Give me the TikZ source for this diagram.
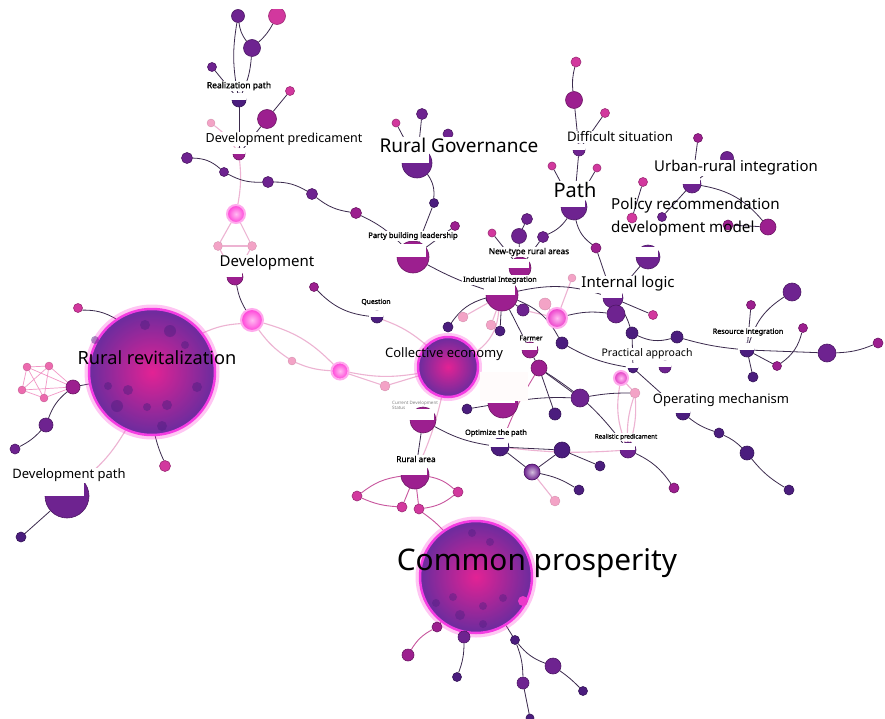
\documentclass[tikz,border=0pt]{standalone}
\usepackage{fontspec}
\setmainfont{Noto Sans}
\newfontfamily\lblbold{Noto Sans}[FakeBold=1.3]
\usetikzlibrary{positioning, backgrounds}

\definecolor{dpur}{HTML}{4B1D7E}
\definecolor{pur}{HTML}{6E2390}
\definecolor{mag}{HTML}{9C1F8F}
\definecolor{pnk}{HTML}{D2389E}
\definecolor{kpk}{HTML}{EC6AAE}
\definecolor{hotpk}{HTML}{FF3FD8}
\definecolor{lpk}{HTML}{F3A3C6}
\definecolor{lineD}{HTML}{3B2A4D}
\definecolor{lineP}{HTML}{EDB3D2}
\definecolor{lineK}{HTML}{C8569E}
\definecolor{bigIn}{HTML}{E32294}
\definecolor{bigOut}{HTML}{6A2C9E}
\definecolor{bigRim}{HTML}{F23BE6}

\newcommand{\lblsize}[1]{\fontsize{#1}{#1}\selectfont}

\begin{document}
\begin{tikzpicture}[x=1pt, y=-1pt,
	bub/.style={circle, inner sep=0pt, minimum size=#1, line width=.6pt},
	nD/.style={bub=#1, fill=dpur, draw=dpur!70!black},
	nP/.style={bub=#1, fill=pur, draw=pur!70!black},
	nM/.style={bub=#1, fill=mag, draw=mag!70!black},
	nK/.style={bub=#1, fill=pnk, draw=pnk!75!black},
	nC/.style={bub=#1, fill=kpk, draw=kpk!80!black, line width=.3pt},
	nL/.style={bub=#1, fill=lpk, draw=lpk!85!black, line width=.3pt},
	nH/.style={bub=#1, inner color=hotpk!35!white, outer color=hotpk, draw=hotpk!45!white, line width=2pt},
	big/.style={bub=#1, inner color=bigIn, outer color=bigOut, draw=bigRim, line width=2.5pt},
	eD/.style={draw=lineD, line width=.8pt},
	eP/.style={draw=lineP, line width=1.1pt},
	eK/.style={draw=lineK, line width=.9pt},
	lab/.style={fill=white, inner sep=1pt, font=\lblsize{#1}},
	labB/.style={fill=white, inner sep=1pt, font=\lblbold\lblsize{#1}}]
	
	% -------------------------------------------------------------------------
	% 1. 画布范围
	% -------------------------------------------------------------------------
	\useasboundingbox (0,0) rectangle (885,719);
	
	% -------------------------------------------------------------------------
	% 2. 三个中心节点 (大圆)
	% -------------------------------------------------------------------------
	\node[big=126] (RR) at (152,372) {};
	\node[big=112] (CP) at (476,577) {};
	\node[big=60]  (CE) at (448,367) {};
	\draw[hotpk, line width=5pt, opacity=.3] (RR.center) circle (65pt);
	\draw[hotpk, line width=5pt, opacity=.3] (CP.center) circle (58pt);
	\draw[hotpk, line width=4pt, opacity=.3] (CE.center) circle (32pt);
	% 大圆里的小点
	\foreach \x/\y/\r in {145/325/5, 170/331/6, 128/390/5, 117/406/6, 108/386/4,
		147/407/4, 167/405/5, 162/426/5, 197/387/5, 185/345/4, 95/340/4}
		\fill[dpur, opacity=.45] (\x,\y) circle (\r pt);
	\foreach \x/\y/\r in {472/533/4, 490/542/4, 453/597/4, 483/606/4, 460/615/5,
		503/598/4, 436/603/4, 483/624/4}
		\fill[dpur, opacity=.4] (\x,\y) circle (\r pt);
	\fill[hotpk!80!mag] (523,601) circle (5pt);
	
	% -------------------------------------------------------------------------
	% 3. 左上: Realization path / Development predicament / Development
	% -------------------------------------------------------------------------
	\node[nP=13] (t1) at (238,16) {};
	\node[nK=17] (t2) at (277,16) {};
	\node[nP=17] (t3) at (252,48) {};
	\node[nP=9]  (t4) at (212,67) {};
	\node[nD=14] (bRP) at (239,100) {};
	\node[nK=9]  (t5) at (290,91) {};
	\node[nM=19] (t6) at (267,119) {};
	\node[nL=8]  (t7) at (211,123) {};
	\node[nM=12] (bDP) at (239,154) {};
	\node[nP=11] (c1) at (187,158) {};
	\node[nP=9]  (c2) at (224,172) {};
	\node[nP=11] (c3) at (268,182) {};
	\node[nP=11] (c4) at (312,194) {};
	\node[nM=11] (c5) at (356,213) {};
	\node[nH=18] (g1) at (236,214) {};
	\node[nL=9]  (t8) at (218,246) {};
	\node[nL=9]  (t9) at (252,246) {};
	\node[nM=16] (bDev) at (235,277) {};
	
	% Rural Governance / Party building leadership
	\node[nK=8]  (r1) at (396,123) {};
	\node[nP=11] (r2) at (422,114) {};
	\node[nP=10] (r3) at (448,134) {};
	\node[nP=30] (bRG) at (417,163) {};
	\node[nD=9]  (r4) at (434,203) {};
	\node[nM=9]  (r5) at (455,226) {};
	\node[nM=32] (bPBL) at (413,257) {};
	
	% Question 与左侧粉色链
	\node[nH=22] (g2) at (252,320) {};
	\node[nM=9]  (m1) at (314,287) {};
	\node[nD=12] (bQ) at (377,317) {};
	\node[nL=8]  (l1) at (292,361) {};
	\node[nH=17] (g3) at (340,371) {};
	\node[nL=10] (l2) at (385,386) {};
	
	% -------------------------------------------------------------------------
	% 4. Rural revitalization 周围
	% -------------------------------------------------------------------------
	\node[nK=9]  (w1) at (78,308) {};
	\node[nM=14] (w2) at (73,387) {};
	\node[nC=8]  (k1) at (27,367) {};
	\node[nC=8]  (k2) at (49,366) {};
	\node[nC=8]  (k3) at (22,390) {};
	\node[nC=8]  (k4) at (44,398) {};
	\node[nP=14] (w3) at (46,425) {};
	\node[nP=10] (w4) at (15,449) {};
	\node[nK=11] (w5) at (165,466) {};
	\node[nP=44] (bDPth) at (67,496) {};
	\node[nD=10] (w6) at (21,537) {};
	
	% -------------------------------------------------------------------------
	% 5. 右上: Path / Urban-rural integration
	% -------------------------------------------------------------------------
	\node[nK=10] (q1) at (576,62) {};
	\node[nM=17] (q2) at (574,100) {};
	\node[nK=9]  (q3) at (605,113) {};
	\node[nP=12] (bDS) at (579,150) {};
	\node[nK=8]  (q4) at (552,166) {};
	\node[nK=8]  (q5) at (597,168) {};
	\node[nP=26] (bPath) at (574,207) {};
	\node[nP=11] (q6) at (527,219) {};
	\node[nP=15] (q7) at (519,236) {};
	\node[nP=11] (q8) at (543,237) {};
	\node[nK=8]  (q9) at (492,233) {};
	\node[nM=22] (bNT) at (520,268) {};
	\node[nM=10] (q10) at (596,248) {};
	
	\node[nM=9]  (u1) at (698,138) {};
	\node[nP=13] (u2) at (727,158) {};
	\node[nP=18] (bUR) at (692,184) {};
	\node[nP=9]  (u3) at (662,217) {};
	\node[nK=9]  (u4) at (643,182) {};
	\node[nK=10] (u5) at (632,218) {};
	\node[nM=10] (u6) at (728,225) {};
	\node[nM=16] (u7) at (768,227) {};
	\node[nP=24] (bDM) at (648,257) {};
	
	% -------------------------------------------------------------------------
	% 6. 中部: Industrial Integration / Internal logic / Farmer
	% -------------------------------------------------------------------------
	\node[nP=20] (bIL) at (613,298) {};
	\node[nK=9]  (v1) at (653,315) {};
	\node[nP=18] (v2) at (616,314) {};
	\node[nD=12] (v3) at (632,333) {};
	\node[nD=12] (v4) at (677,337) {};
	\node[nD=12] (v5) at (562,343) {};
	\node[nL=12] (l3) at (545,304) {};
	\node[nH=20, outer color=hotpk!80!mag] (g4) at (557,318) {};
	\node[nL=8]  (l4) at (572,278) {};
	\node[nP=12] (v6) at (523,310) {};
	\node[nD=10] (v7) at (500,331) {};
	\node[nD=8]  (v8) at (490,299) {};
	\node[nL=10] (l5) at (463,317) {};
	\node[nL=10] (l6) at (491,325) {};
	\node[nD=10] (v9) at (448,327) {};
	\node[nM=32] (bII) at (502,295) {};
	
	\node[nM=16] (bFa) at (530,350) {};
	\node[nM=16] (f1) at (539,368) {};
	\node[nP=18] (f2) at (580,398) {};
	\node[nD=12] (f3) at (555,414) {};
	
	% Resource integration
	\node[nM=9]  (s1) at (751,305) {};
	\node[nP=18] (s2) at (792,292) {};
	\node[nM=9]  (s3) at (803,328) {};
	\node[nP=18] (s4) at (827,353) {};
	\node[nM=10] (s5) at (878,343) {};
	\node[nM=9]  (s6) at (777,366) {};
	\node[nD=10] (s7) at (753,377) {};
	\node[nD=14] (bRI) at (747,350) {};
	
	% Practical approach / Operating mechanism / Realistic predicament
	\node[nD=10] (bPA) at (633,368) {};
	\node[nP=12] (pa1) at (665,367) {};
	\node[nH=14, outer color=hotpk!70!mag] (g5) at (621,378) {};
	\node[nL=10] (l7) at (635,393) {};
	\node[nD=14] (bOM) at (683,413) {};
	\node[nD=10] (o1) at (719,433) {};
	\node[nD=14] (o2) at (747,453) {};
	\node[nD=10] (o3) at (789,490) {};
	\node[nP=16] (bRPd) at (628,450) {};
	\node[nM=10] (rp1) at (674,488) {};
	
	% -------------------------------------------------------------------------
	% 7. 下部: Optimize the path / Rural area / Common prosperity
	% -------------------------------------------------------------------------
	\node[nM=30] (bCEl) at (503,403) {};
	\node[nD=10] (e1) at (467,409) {};
	\node[nD=18] (bOP) at (500,447) {};
	\node[nD=16] (o4) at (562,450) {};
	\node[nP=16, inner color=pur!30!white, outer color=pur] (o5) at (532,472) {};
	\node[nD=10] (o6) at (579,490) {};
	\node[nD=10] (o7) at (600,466) {};
	\node[nL=10] (l8) at (555,501) {};
	\node[nM=26] (bCDS) at (423,420) {};
	\node[nM=28] (bRA) at (415,475) {};
	\node[nK=10] (ra1) at (357,496) {};
	\node[nK=10] (ra2) at (402,507) {};
	\node[nK=10] (ra3) at (419,509) {};
	\node[nK=10] (ra4) at (458,492) {};
	
	\node[nM=10] (cp1) at (437,627) {};
	\node[nM=12] (cp2) at (408,655) {};
	\node[nP=12] (cp3) at (464,637) {};
	\node[nD=9]  (cp4) at (457,677) {};
	\node[nD=9]  (cp5) at (515,640) {};
	\node[nP=16] (cp6) at (553,666) {};
	\node[nD=9]  (cp7) at (583,691) {};
	\node[nP=12] (cp8) at (523,683) {};
	\node[nD=8]  (cp9) at (530,718) {};
	
	% -------------------------------------------------------------------------
	% 8. 连线 (放在背景层)
	% -------------------------------------------------------------------------
	\begin{scope}[on background layer]
		\fill[white] (0,0) rectangle (885,719);
		% 粉色弱连接
		\draw[eP] (bDP) to[bend left=8] (g1);
		\draw[eP] (g1) -- (t8);
		\draw[eP] (g1) -- (t9);
		\draw[eP] (t8) -- (t9);
		\draw[eP] (t8) -- (bDev);
		\draw[eP] (t9) -- (bDev);
		\draw[eP] (RR) to[bend left=10] (g2);
		\draw[eP] (g2) to[bend right=10] (l1);
		\draw[eP] (g2) to[bend left=15] (g3);
		\draw[eP] (l1) to[bend right=10] (g3);
		\draw[eP] (g3) -- (l2);
		\draw[eP] (g3) to[bend right=10] (CE);
		\draw[eP] (l2) -- (CE);
		\draw[eP] (bQ) to[bend left=10] (CE);
		\draw[eP] (CE) to[bend right=25] (bII);
		\draw[eP] (CE) to[bend left=5] (bRA);
		\draw[eP] (l5) -- (bII);
		\draw[eP] (l6) -- (bII);
		\draw[eP] (l3) -- (g4);
		\draw[eP] (l4) -- (g4);
		\draw[eP] (g4) -- (v6);
		\draw[eP] (g5) -- (l7);
		\draw[eP] (l7) to[bend left=10] (bRPd);
		\draw[eP] (l7) to[bend right=10] (bRPd);
		\draw[eP] (g5) to[bend right=15] (bRPd);
		\draw[eP] (bOP) to[bend right=5] (bRPd);
		\draw[eP] (o5) -- (l8);
		\draw[eP] (RR) to[bend left=10] (bDPth);
		\foreach \a/\b in {k1/k2, k1/k3, k1/k4, k2/k3, k2/k4, k3/k4, k1/w2, k2/w2, k3/w2, k4/w2}
			\draw[eP, line width=.7pt, draw=kpk!70!white] (\a) -- (\b);
		\draw[eP] (t7) to[bend left=10] (bDP);
		
		% 深色连接: 左上
		\draw[eD] (t1) to[bend right=15] (t3);
		\draw[eD] (t2) to[bend left=10] (t3);
		\draw[eD] (t3) to[bend left=10] (bRP);
		\draw[eD] (t1) to[bend right=10] (bRP);
		\draw[eD] (t4) -- (bRP);
		\draw[eD] (t5) -- (t6);
		\draw[eD] (t6) -- (bDP);
		\draw[eD] (bRP) -- (bDP);
		\draw[eD] (c1) to[bend left=20] (c2);
		\draw[eD] (c2) to[bend right=15] (c3);
		\draw[eD] (c3) to[bend left=15] (c4);
		\draw[eD] (c4) to[bend right=15] (c5);
		\draw[eD] (c5) to[bend left=10] (bPBL);
		\draw[eD] (bDev) to[bend right=10] (g2);
		\draw[eD] (m1) to[bend right=20] (bQ);
		
		% Rural Governance
		\draw[eD] (r1) -- (bRG);
		\draw[eD] (r2) -- (bRG);
		\draw[eD] (r3) -- (bRG);
		\draw[eD] (bRG) to[bend left=20] (r4);
		\draw[eD] (r4) -- (bPBL);
		\draw[eD] (r5) -- (bPBL);
		\draw[eD] (bPBL) to[bend right=5] (bII);
		
		% Rural revitalization
		\draw[eD] (w1) to[bend left=15] (RR);
		\draw[eD] (w2) -- (RR);
		\draw[eD] (w2) to[bend right=15] (w3);
		\draw[eD] (w3) to[bend left=10] (w4);
		\draw[eD] (RR) to[bend right=5] (w5);
		\draw[eD] (bDPth) -- (w6);
		
		% Path
		\draw[eD] (q1) to[bend right=10] (q2);
		\draw[eD] (q2) -- (bDS);
		\draw[eD] (q3) -- (bDS);
		\draw[eD] (bDS) -- (bPath);
		\draw[eD] (q4) -- (bPath);
		\draw[eD] (q5) -- (bPath);
		\draw[eD] (bPath) to[bend left=15] (q8);
		\draw[eD] (q6) -- (q7);
		\draw[eD] (q7) -- (bNT);
		\draw[eD] (q8) -- (bNT);
		\draw[eD] (q9) -- (bNT);
		\draw[eD] (bPath) to[bend right=20] (q10);
		\draw[eD] (q10) -- (bIL);
		
		% Urban-rural integration
		\draw[eD] (u1) -- (bUR);
		\draw[eD] (u2) -- (bUR);
		\draw[eD] (bUR) -- (u3);
		\draw[eD] (u4) -- (u5);
		\draw[eD] (u6) -- (u7);
		\draw[eD] (u7) to[bend right=20] (bUR);
		\draw[eD] (bDM) -- (bIL);
		
		% Internal logic / Industrial Integration
		\draw[eD] (bIL) -- (v1);
		\draw[eD] (bIL) -- (v2);
		\draw[eD] (v2) to[bend right=10] (g4);
		\draw[eD] (bIL) to[bend left=10] (v3);
		\draw[eD] (v3) to[bend right=20] (v4);
		\draw[eD] (v4) to[bend right=5] (bRI);
		\draw[eD] (v3) -- (bPA);
		\draw[eD] (v5) to[bend right=10] (bPA);
		\draw[eD] (bII) to[bend left=20] (v5);
		\draw[eD] (bII) -- (v6);
		\draw[eD] (bII) -- (v7);
		\draw[eD] (bII) -- (v8);
		\draw[eD] (bII) to[bend right=20] (v9);
		\draw[eD] (bII) -- (bFa);
		\draw[eD] (bII) to[bend left=15] (bIL);
		
		% Resource integration
		\draw[eD] (s1) -- (bRI);
		\draw[eD] (s2) to[bend right=20] (bRI);
		\draw[eD] (s3) to[bend left=20] (s6);
		\draw[eD] (s6) -- (bRI);
		\draw[eD] (s4) to[bend right=10] (s5);
		\draw[eD] (s4) -- (bRI);
		\draw[eD] (bRI) -- (s7);
		
		% Farmer / Operating mechanism
		\draw[eD] (bFa) -- (f1);
		\draw[eD] (f1) -- (f2);
		\draw[eD] (f1) -- (f3);
		\draw[eD] (f1) to[bend left=10] (bRPd);
		\draw[eK] (f1) to[bend right=5] (bOP);
		\draw[eD] (bCEl) to[bend left=5] (f2);
		\draw[eD] (f2) to[bend left=5] (l7);
		\draw[eD] (bPA) -- (bOM);
		\draw[eD] (bOM) to[bend right=10] (o1);
		\draw[eD] (o1) to[bend left=10] (o2);
		\draw[eD] (o2) to[bend right=10] (o3);
		\draw[eD] (bRPd) to[bend left=15] (rp1);
		
		% Optimize the path / Rural area
		\draw[eD] (e1) -- (bCEl);
		\draw[eD] (bCDS) -- (bRA);
		\draw[eD] (bCDS) to[bend right=10] (bOP);
		\draw[eD] (bOP) -- (o5);
		\draw[eD] (o5) -- (o4);
		\draw[eD] (o4) -- (o7);
		\draw[eD] (o4) -- (bOP);
		\draw[eD] (o5) to[bend left=10] (o6);
		\draw[eK] (bRA) to[bend right=15] (ra1);
		\draw[eK] (ra1) to[bend right=10] (ra2);
		\draw[eK] (bRA) -- (ra2);
		\draw[eK] (bRA) -- (ra3);
		\draw[eK] (bRA) to[bend left=15] (ra4);
		\draw[eK] (ra3) to[bend right=15] (ra4);
		\draw[eK] (ra3) to[bend left=5] (CP);
		
		% Common prosperity
		\draw[eK] (CP) -- (cp1);
		\draw[eK] (cp1) to[bend right=15] (cp2);
		\draw[eD] (CP) -- (cp3);
		\draw[eD] (cp3) to[bend left=10] (cp4);
		\draw[eD] (CP) -- (cp5);
		\draw[eD] (cp5) to[bend right=15] (cp6);
		\draw[eD] (cp6) to[bend left=5] (cp7);
		\draw[eD] (cp5) to[bend left=10] (cp8);
		\draw[eD] (cp8) -- (cp9);
	\end{scope}
	
	% -------------------------------------------------------------------------
	% 9. 标签下方的半圆 (遮住上半部分)
	% -------------------------------------------------------------------------
	\foreach \b in {bRP, bDP, bDev, bRG, bPBL, bQ, bDPth, bDS, bPath, bNT, bUR, bDM,
		bIL, bII, bRI, bFa, bPA, pa1, bOM, bRPd, bCEl, bOP, bCDS, bRA}
		\fill[white] ([xshift=-1.5pt]\b.west) rectangle ([xshift=1.5pt, yshift=1.5pt]\b.north east);
	\fill[white!93!pink] (480,372) rectangle (528,401);
	
	% -------------------------------------------------------------------------
	% 10. 文字标签
	% -------------------------------------------------------------------------
	\node[labB=8.5]  (lRP)   at (239,86)  {Realization path};
	\node[lab=12.5]  (lDP)   at (284,139) {Development predicament};
	\node[lab=19]    (lRG)   at (459,145) {Rural Governance};
	\node[lab=13.2]  (lDS)   at (620,137) {Difficult situation};
	\node[lab=14.9]  (lUR)   at (736,168) {Urban-rural integration};
	\node[lab=20]    (lPath) at (575,190) {Path};
	\node[font=\fontsize{15.2}{22.5}\selectfont, align=left, anchor=west, inner sep=0pt]
		(lPol) at (611,217) {Policy recommendation\\development model};
	\node[labB=7.6]  (lPBL)  at (413,236) {Party building leadership};
	\node[labB=8.2]  (lNT)   at (529,252) {New-type rural areas};
	\node[lab=15]    (lDev)  at (267,263) {Development};
	\node[labB=7.3]  (lII)   at (500,280) {Industrial Integration};
	\node[lab=15]    (lIL)   at (628,284) {Internal logic};
	\node[labB=6.8]  (lQ)    at (376,302) {Question};
	\node[labB=7.2]  (lRI)   at (748,332) {Resource integration};
	\node[font=\lblsize{18.2}] (lRR) at (157,358) {Rural revitalization};
	\node[labB=6.8]  (lFa)   at (531,338) {Farmer};
	\node[font=\lblsize{13}] (lCE) at (444,354) {Collective economy};
	\node[lab=10.5]  (lPA)   at (647,354) {Practical approach};
	\node[lab=13]    (lOM)   at (721,400) {Operating mechanism};
	\node[font=\fontsize{4.5}{5}\selectfont, text=gray, align=left, anchor=west, inner sep=0pt]
		(lCDS) at (392,405) {Current Development\\Status};
	\node[labB=7.3]  (lOP)   at (496,433) {Optimize the path};
	\node[labB=6.2]  (lRPd)  at (626,437) {Realistic predicament};
	\node[labB=8.2]  (lRA)   at (416,459) {Rural area};
	\node[lab=13]    (lDPth) at (69,475)  {Development path};
	\node[font=\lblsize{29.8}] (lCP) at (537,563) {Common prosperity};
	
	% 顶部边缘
	\fill[white] (0,0) rectangle (885,9);
	
\end{tikzpicture}
\end{document}
